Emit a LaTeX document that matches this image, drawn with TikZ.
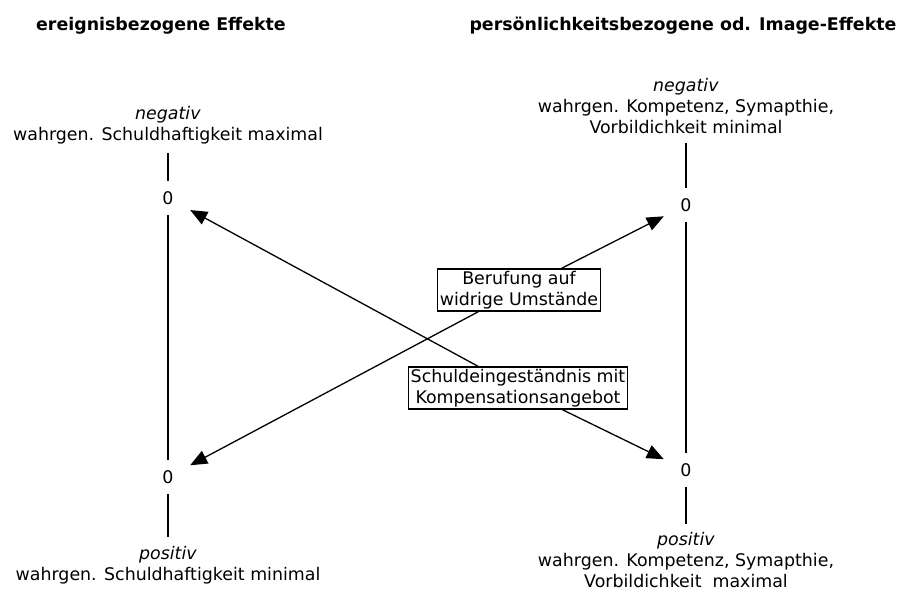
\documentclass[tikz,border=0pt]{standalone}
\usepackage{fontspec}
\setmainfont{DejaVu Sans}
\usetikzlibrary{arrows.meta}
\begin{document}
\begin{tikzpicture}[x=1pt,y=-1pt,
  txt/.style={font=\fontsize{17.4}{21}\selectfont, align=center},
  title/.style={font=\fontsize{17.4}{21}\selectfont\bfseries, inner sep=0pt},
  label/.style={txt, inner xsep=0pt, inner ysep=9pt},
  zero/.style={txt, inner sep=0pt, minimum width=44pt, minimum height=34pt},
  optbox/.style={txt, draw, line width=1.3pt, inner xsep=2pt, inner ysep=2pt},
  axis/.style={line width=1.3pt},
  arr/.style={line width=1.3pt, -{Triangle[length=17pt,width=14pt]}}]
\useasboundingbox (0,0) rectangle (900,592);

% column headings
\node[title] (tL) at (161,26) {ereignisbezogene Effekte};
\node[title] (tR) at (683,26) {persönlichkeitsbezogene od. Image-Effekte};

% event-related scale (left)
\node[label, anchor=south] (negL) at (168,153) {\textit{negativ}\\wahrgen. Schuldhaftigkeit maximal};
\node[zero] (zL1) at (168,198) {0};
\node[zero] (zL2) at (168,477) {0};
\node[label, anchor=north] (posL) at (168,537) {\textit{positiv}\\wahrgen. Schuldhaftigkeit minimal};
\draw[axis] (negL.south) -- (zL1.north);
\draw[axis] (zL1.south) -- (zL2.north);
\draw[axis] (zL2.south) -- (posL.north);

% image-related scale (right)
\node[label, anchor=south] (negR) at (686,143) {\textit{negativ}\\wahrgen. Kompetenz, Symapthie,\\Vorbildichkeit minimal};
\node[zero] (zR1) at (686,205) {0};
\node[zero] (zR2) at (686,470) {0};
\node[label, anchor=north, inner ysep=8pt] (posR) at (686,524) {\textit{positiv}\\wahrgen. Kompetenz, Symapthie,\\Vorbildichkeit\ \ maximal};
\draw[axis] (negR.south) -- (zR1.north);
\draw[axis] (zR1.south) -- (zR2.north);
\draw[axis] (zR2.south) -- (posR.north);

% response strategies
\node[optbox] (beruf) at (519,290) {Berufung auf\\widrige Umstände};
\node[optbox] (schuld) at (518,388) {Schuldeingeständnis mit\\Kompensationsangebot};

\draw[arr] (schuld) -- (zL1);
\draw[arr] (schuld) -- (zR2);
\draw[arr] (beruf) -- (zR1);
\draw[arr] (beruf) -- (zL2);
\end{tikzpicture}
\end{document}
